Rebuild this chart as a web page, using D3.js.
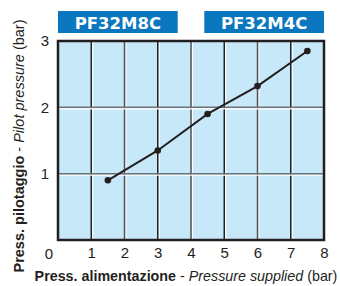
<!DOCTYPE html>
<html>
<head>
<meta charset="utf-8">
<script src="https://cdn.jsdelivr.net/npm/d3@7"></script>
<style>
  body { margin: 0; background: #fff; }
  svg { display: block; font-family: "Liberation Sans", Arial, sans-serif; }
</style>
</head>
<body>
<div id="chart"></div>
<script>
// data
const supplied = [1.5, 3, 4.5, 6, 7.5];
const pilot = [0.9, 1.35, 1.9, 2.32, 2.85];
const xTicks = [1, 2, 3, 4, 5, 6, 7, 8];
const yTicks = [1, 2, 3];
const models = ['PF32M8C', 'PF32M4C'];
const modelRanges = [[0, 3.6], [4.4, 8]];

const width = 340;
const height = 286;
const margin = { top: 41, right: 16, bottom: 46, left: 58 };

const svg = d3.select('#chart')
    .append('svg')
    .attr('width', width)
    .attr('height', height);

const x = d3.scaleLinear()
    .domain([0, 8])
    .range([margin.left, width - margin.right]);

const y = d3.scaleLinear()
    .domain([0, 3])
    .range([height - margin.bottom, margin.top]);

// plot background
svg.append('rect')
    .attr('x', x(0))
    .attr('y', y(3))
    .attr('width', x(8) - x(0))
    .attr('height', y(0) - y(3))
    .attr('fill', '#c7e8f8');

// grid lines with a white edge
const grid = svg.append('g');
grid.selectAll('.vw')
    .data(xTicks.slice(0, -1))
    .join('line')
    .attr('x1', d => x(d) + 1.5).attr('x2', d => x(d) + 1.5)
    .attr('y1', y(3)).attr('y2', y(0))
    .attr('stroke', '#fff').attr('stroke-width', 1);
grid.selectAll('.v')
    .data(xTicks.slice(0, -1))
    .join('line')
    .attr('x1', d => x(d)).attr('x2', d => x(d))
    .attr('y1', y(3)).attr('y2', y(0))
    .attr('stroke', (d, i) => i % 2 === 0 ? '#222' : '#555')
    .attr('stroke-width', 1.5);
grid.selectAll('.hw')
    .data(yTicks.slice(0, -1))
    .join('line')
    .attr('x1', x(0)).attr('x2', x(8))
    .attr('y1', d => y(d) + 1.5).attr('y2', d => y(d) + 1.5)
    .attr('stroke', '#fff').attr('stroke-width', 1.2);
grid.selectAll('.h')
    .data(yTicks.slice(0, -1))
    .join('line')
    .attr('x1', x(0)).attr('x2', x(8))
    .attr('y1', d => y(d)).attr('y2', d => y(d))
    .attr('stroke', '#6a7378').attr('stroke-width', 1.5);

// frame
svg.append('rect')
    .attr('x', x(0))
    .attr('y', y(3))
    .attr('width', x(8) - x(0))
    .attr('height', y(0) - y(3))
    .attr('fill', 'none')
    .attr('stroke', '#231f20')
    .attr('stroke-width', 2.5);

// model headers
const heads = svg.append('g')
    .selectAll('g')
    .data(models)
    .join('g');
heads.append('rect')
    .attr('x', (d, i) => x(modelRanges[i][0]))
    .attr('y', 11)
    .attr('width', (d, i) => x(modelRanges[i][1]) - x(modelRanges[i][0]))
    .attr('height', 22)
    .attr('fill', '#0a77bf');
heads.append('text')
    .attr('x', (d, i) => (x(modelRanges[i][0]) + x(modelRanges[i][1])) / 2)
    .attr('y', 28.5)
    .attr('text-anchor', 'middle')
    .attr('fill', '#fff')
    .attr('font-family', '"DejaVu Sans", sans-serif')
    .attr('font-weight', 'bold')
    .attr('font-size', 16.5)
    .text(d => d);

// curve
const line = d3.line()
    .x((d, i) => x(supplied[i]))
    .y(d => y(d));
svg.append('path')
    .datum(pilot)
    .attr('d', line)
    .attr('fill', 'none')
    .attr('stroke', '#231f20')
    .attr('stroke-width', 2);
svg.selectAll('.pt')
    .data(pilot)
    .join('circle')
    .attr('cx', (d, i) => x(supplied[i]))
    .attr('cy', d => y(d))
    .attr('r', 3.3)
    .attr('fill', '#231f20');

// axes (labels only)
const xAxis = svg.append('g')
    .attr('transform', `translate(0,${y(0)})`)
    .call(d3.axisBottom(x).tickValues(xTicks).tickSize(0).tickPadding(7));
xAxis.select('.domain').remove();
xAxis.selectAll('text')
    .attr('font-size', 15)
    .attr('font-family', '"Liberation Sans", Arial, sans-serif')
    .attr('fill', '#231f20');

const yAxis = svg.append('g')
    .attr('transform', `translate(${x(0)},0)`)
    .call(d3.axisLeft(y).tickValues(yTicks).tickFormat(d3.format('d')).tickSize(0).tickPadding(9));
yAxis.select('.domain').remove();
yAxis.selectAll('text')
    .attr('font-size', 15)
    .attr('font-family', '"Liberation Sans", Arial, sans-serif')
    .attr('fill', '#231f20');

// shared origin label
svg.append('text')
    .attr('x', x(0) - 9)
    .attr('y', y(0) + 19)
    .attr('text-anchor', 'middle')
    .attr('font-size', 15)
    .attr('fill', '#231f20')
    .text('0');

// axis titles
const xTitle = svg.append('text')
    .attr('x', 186)
    .attr('y', 281)
    .attr('text-anchor', 'middle')
    .attr('font-size', 14.3)
    .attr('fill', '#231f20');
xTitle.append('tspan').attr('font-weight', 'bold').text('Press. alimentazione');
xTitle.append('tspan').text(' - ');
xTitle.append('tspan').attr('font-style', 'italic').text('Pressure supplied');
xTitle.append('tspan').text(' (bar)');

const yTitle = svg.append('text')
    .attr('transform', `translate(24,146) rotate(-90)`)
    .attr('text-anchor', 'middle')
    .attr('font-size', 14.5)
    .attr('fill', '#231f20');
yTitle.append('tspan').attr('font-weight', 'bold').text('Press. pilotaggio');
yTitle.append('tspan').text(' - ');
yTitle.append('tspan').attr('font-style', 'italic').text('Pilot pressure');
yTitle.append('tspan').text(' (bar)');
</script>
</body>
</html>
